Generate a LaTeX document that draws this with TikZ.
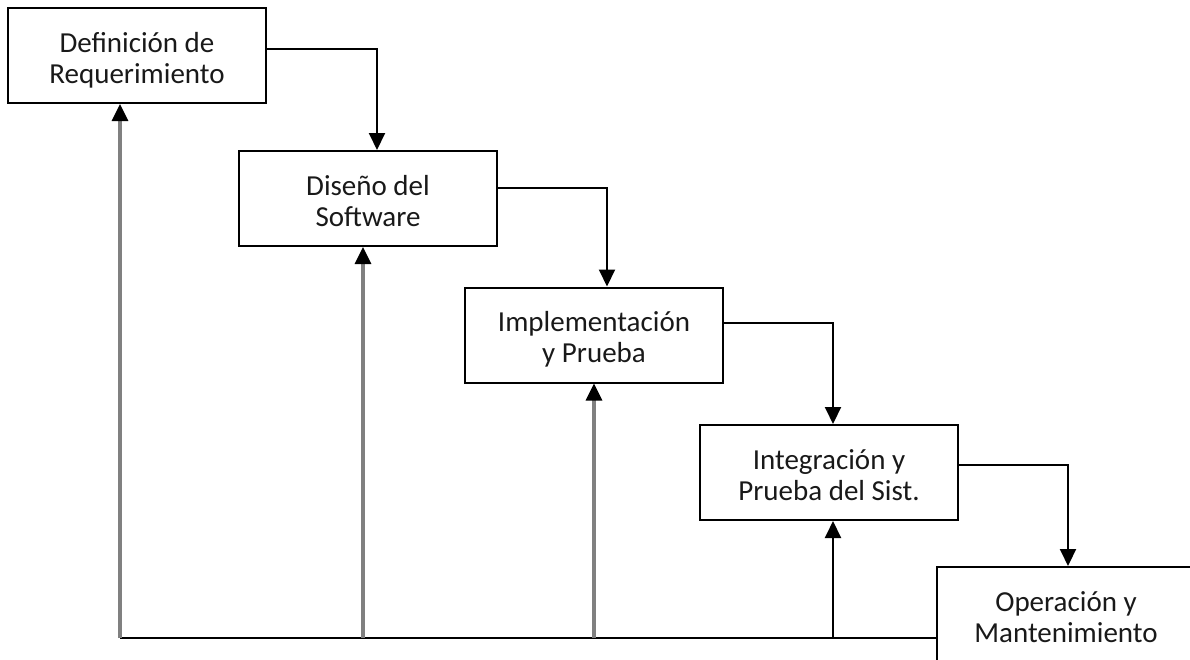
\documentclass[tikz,border=0pt]{standalone}
\usepackage{fontspec}
\setmainfont{Carlito}
\usetikzlibrary{arrows.meta, positioning}

\begin{document}
\begin{tikzpicture}
[x=1pt, y=-1pt,
 ->/.style={line width=2pt, arrows={-Triangle[length=17pt,width=16pt]}},
 back/.style={line width=3.2pt, draw=black!50, arrows={-Triangle[length=17pt,width=16pt,color=black]}},
 stage/.style={shape=rectangle, draw, line width=2pt, minimum width=258pt, minimum height=95pt,
   align=center, font=\fontsize{29}{31}\selectfont, text=black!90, text height=55pt, text depth=0pt}]
\useasboundingbox (0,0) rectangle (1190,659);
\clip (0,0) rectangle (1190,659);
\node[stage] (DR) at (137,55.5) {Definición de\\Requerimiento};
\node[stage] (DS) at (368,198.5) {Diseño del\\Software};
\node[stage] (IP) at (594,335) {Implementación\\y Prueba};
\node[stage] (IS) at (829,472.5) {Integración y\\Prueba del Sist.};
\node[stage] (OM) at (1066,614.5) {Operación y\\Mantenimiento};
%% flujo principal
\draw [->] ([yshift=6.5pt]DR.east) -| ([xshift=9pt]DS.north);
\draw [->] ([yshift=11pt]DS.east) -| ([xshift=13pt]IP.north);
\draw [->] ([yshift=12pt]IP.east) -| ([xshift=4pt]IS.north);
\draw [->] ([yshift=7.5pt]IS.east) -| ([xshift=2pt]OM.north);
%% retroalimentacion
\coordinate (b1) at (120,638);
\coordinate (b2) at (363,638);
\coordinate (b3) at (594,638);
\coordinate (b4) at (833,638);
\draw [line width=2pt] (b1) -- (OM.west |- b1);
\draw [back] (b1) -- (b1 |- DR.south);
\draw [back] (b2) -- (b2 |- DS.south);
\draw [back] (b3) -- (b3 |- IP.south);
\draw [->] (b4) -- (b4 |- IS.south);
\end{tikzpicture}
\end{document}
